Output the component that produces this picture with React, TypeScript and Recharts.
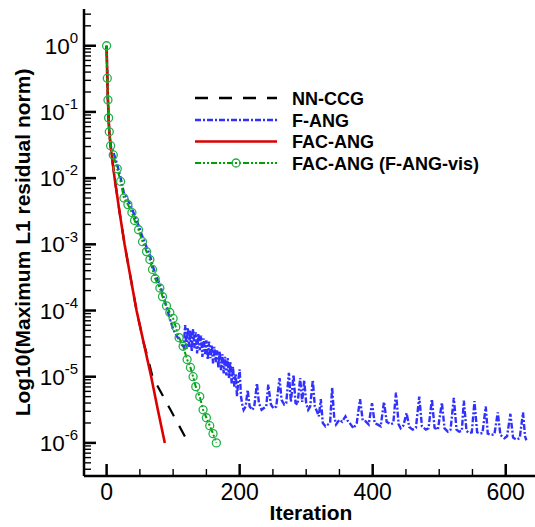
import React from 'react';
import { LineChart, Line, XAxis, YAxis, Legend } from 'recharts';

// Iteration numbers and log10(residual) values
const nnCcgIter = [0, 1, 2, 3, 4, 6, 8, 12, 20, 27, 36, 45, 56, 62, 69, 96, 123];
const nnCcgLog = [0, -0.49, -0.82, -1.09, -1.3, -1.51, -1.68, -2.0, -2.55, -3.0, -3.5, -4.0, -4.5, -4.72, -5.0, -5.5, -6.0];

const facAngIter = [0, 1, 2, 3, 4, 6, 8, 12, 20, 27, 36, 45, 56, 67, 77, 87.5];
const facAngLog = [0, -0.49, -0.82, -1.09, -1.3, -1.51, -1.68, -2.0, -2.55, -3.0, -3.5, -4.0, -4.5, -5.0, -5.5, -6.0];

const visIter = [0, 1, 2, 3, 4, 6, 10, 16, 21, 26, 32, 38, 42, 48, 54, 60, 65, 69, 73, 80, 84, 90, 95, 100, 104, 109, 115, 121, 126, 130, 134, 140, 145, 150, 155, 160, 165];
const visLog = [0, -0.49, -0.82, -1.09, -1.3, -1.51, -1.65, -1.86, -2.05, -2.3, -2.4, -2.52, -2.64, -2.78, -2.96, -3.11, -3.23, -3.38, -3.52, -3.66, -3.79, -3.93, -4.03, -4.12, -4.25, -4.41, -4.54, -4.74, -4.86, -5.0, -5.15, -5.3, -5.5, -5.62, -5.74, -5.86, -6.0];

const fAngIter = [
  0, 1, 2, 3, 4, 6, 10, 16, 21, 26, 32, 38, 42, 48, 54, 60, 65, 69, 73, 80, 84, 90, 95, 100, 105, 110, 113, 116,
  118, 120, 122, 124, 126, 128, 130, 132, 134, 136, 138, 140, 142, 144, 146, 148, 150, 152, 154, 156, 158, 160,
  162, 164, 166, 168, 170, 172, 174, 176, 178, 180, 182, 184, 186, 188, 190, 192, 194, 196, 198, 200, 202, 204,
  206, 209, 212, 215, 219, 222, 226, 229, 233, 237, 240, 243, 247, 251, 255, 260, 263, 267, 270, 274, 277, 281,
  284, 287, 291, 294, 297, 300, 303, 306, 310, 313, 316, 319, 322, 325, 329, 333, 336, 339, 342, 345, 350, 354,
  359, 362, 367, 371, 376, 381, 385, 389, 394, 399, 403, 407, 412, 417, 421, 427, 431, 435, 439, 442, 446, 451,
  455, 460, 465, 470, 474, 480, 484, 489, 493, 498, 504, 508, 513, 517, 522, 526, 530, 534, 537, 541, 545, 549,
  553, 557, 561, 565, 570, 573, 578, 583, 588, 592, 598, 602, 607, 611, 616, 621, 626, 629, 631,
];
const fAngLog = [
  0, -0.49, -0.82, -1.09, -1.3, -1.51, -1.6, -1.8, -1.99, -2.23, -2.33, -2.45, -2.57, -2.71, -2.89, -3.04, -3.16, -3.31, -3.45, -3.6, -3.74, -3.95, -4.12, -4.28, -4.38, -4.45, -4.52, -4.55,
  -4.22, -4.58, -4.26, -4.55, -4.3, -4.62, -4.28, -4.57, -4.33, -4.65, -4.35, -4.6, -4.38, -4.7, -4.42, -4.66, -4.45, -4.74, -4.47, -4.72, -4.52, -4.8,
  -4.55, -4.78, -4.6, -4.86, -4.62, -4.9, -4.66, -4.95, -4.7, -4.98, -4.72, -5.02, -4.78, -5.1, -4.85, -5.15, -4.95, -5.3, -5.05, -4.89, -5.3, -5.42,
  -5.5, -5.45, -5.2, -5.45, -5.5, -5.45, -5.1, -5.4, -5.5, -5.47, -5.45, -5.12, -5.42, -5.48, -5.45, -5.02, -5.35, -5.42, -5.4, -4.94, -5.38, -4.97,
  -5.4, -5.42, -5.02, -5.38, -5.05, -5.4, -5.5, -5.45, -5.05, -5.45, -5.52, -5.6, -5.34, -5.7, -5.75, -5.72, -5.7, -5.16, -5.6, -5.72, -5.65, -5.68,
  -5.6, -5.66, -5.72, -5.78, -5.7, -5.34, -5.66, -5.67, -5.72, -5.4, -5.7, -5.72, -5.75, -5.38, -5.68, -5.72, -5.7, -5.24, -5.72, -5.78, -5.74, -5.55,
  -5.76, -5.8, -5.77, -5.3, -5.75, -5.8, -5.78, -5.34, -5.77, -5.8, -5.39, -5.78, -5.83, -5.8, -5.32, -5.8, -5.83, -5.82, -5.36, -5.82, -5.85, -5.84,
  -5.37, -5.84, -5.86, -5.85, -5.45, -5.86, -5.88, -5.87, -5.54, -5.88, -5.93, -5.9, -5.56, -5.92, -5.95, -5.93, -5.54, -5.9, -5.96,
];

const seriesNames = ['NN-CCG', 'F-ANG', 'FAC-ANG', 'FAC-ANG (F-ANG-vis)'];
const xTicks = [0, 50, 100, 150, 200, 250, 300, 350, 400, 450, 500, 550, 600];
const xMajorTicks = [0, 200, 400, 600];
const yDecades = [0, -1, -2, -3, -4, -5, -6, -7];
const yMinorMultipliers = [2, 3, 4, 5, 6, 7, 8, 9];

const Y_MIN = -6.5;
const Y_MAX = 0.555;

const yTicks: number[] = [];
yDecades.forEach((d) => {
  if (d >= Y_MIN && d <= Y_MAX) yTicks.push(d);
  yMinorMultipliers.forEach((m) => {
    const t = d + Math.log10(m);
    if (t >= Y_MIN && t <= Y_MAX) yTicks.push(t);
  });
});

const toRows = (its: number[], vals: number[]) => its.map((it, i) => ({ it, v: vals[i] }));
const nnCcgData = toRows(nnCcgIter, nnCcgLog);
const facAngData = toRows(facAngIter, facAngLog);
const visData = toRows(visIter, visLog);
const fAngData = toRows(fAngIter, fAngLog);

const FONT = '"Liberation Sans", Arial, Helvetica, sans-serif';
const BLUE = '#3030ff';
const RED = '#dd0000';
const GREEN = '#00a000';
const GREEN_MARK = '#22b04a';

const YTick = (props: any) => {
  const { x, y, payload } = props;
  const v = payload.value as number;
  const major = Math.abs(v - Math.round(v)) < 1e-6;
  return (
    <g>
      <line x1={x} x2={x + (major ? 12 : 7)} y1={y} y2={y} stroke="#000" strokeWidth={major ? 2.5 : 1.4} />
      {major && (
        <text x={x - 6} y={y + 8} textAnchor="end" fontFamily={FONT} fontSize={22.5} fill="#000">
          <tspan>10</tspan>
          <tspan dy={-10.7} fontSize={15}>{String(Math.round(v))}</tspan>
        </text>
      )}
    </g>
  );
};

const XTick = (props: any) => {
  const { x, y, payload } = props;
  const v = payload.value as number;
  const major = xMajorTicks.includes(v);
  return (
    <g>
      <line x1={x} x2={x} y1={y} y2={y - (major ? 12 : 7)} stroke="#000" strokeWidth={major ? 2.5 : 1.4} />
      {major && (
        <text x={x} y={y + 24} textAnchor="middle" fontFamily={FONT} fontSize={23} fill="#000">
          {String(v)}
        </text>
      )}
    </g>
  );
};

const GreenDot = (props: any) => {
  const { cx, cy, index } = props;
  if (cx == null || cy == null) return <g key={`d${index}`} />;
  return <circle key={`d${index}`} cx={cx} cy={cy} r={4} fill="none" stroke={GREEN_MARK} strokeWidth={1.3} />;
};

const LegendBox = () => {
  const rows = [
    { name: seriesNames[0], stroke: '#000', dash: '13 11', width: 2.4, marker: false },
    { name: seriesNames[1], stroke: BLUE, dash: '6 2 2 2', width: 2.3, marker: false },
    { name: seriesNames[2], stroke: RED, dash: undefined, width: 2.6, marker: false },
    { name: seriesNames[3], stroke: GREEN, dash: '6 2 2 2 2 2', width: 2.2, marker: true },
  ];
  const ys = [13, 35, 56.5, 78];
  return (
    <svg width={330} height={92} style={{ display: 'block', overflow: 'visible' }}>
      {rows.map((r, i) => (
        <g key={r.name}>
          <line x1={5} x2={87} y1={ys[i]} y2={ys[i]} stroke={r.stroke} strokeWidth={r.width} strokeDasharray={r.dash} />
          {r.marker && <circle cx={46} cy={ys[i]} r={4} fill="none" stroke={GREEN_MARK} strokeWidth={1.3} />}
          <text x={102} y={ys[i] + 6.5} fontFamily={FONT} fontWeight="bold" fontSize={18} fill="#000">
            {r.name}
          </text>
        </g>
      ))}
    </svg>
  );
};

export default function App() {
  return (
    <div style={{ position: 'absolute', left: 0, top: 0, width: 535, height: 527, background: '#fff' }}>
      <LineChart width={535} height={527} margin={{ top: 9, right: 0, bottom: 0, left: 0 }}>
        <XAxis
          type="number"
          dataKey="it"
          domain={[-34, 644]}
          allowDataOverflow
          ticks={xTicks}
          interval={0}
          tick={<XTick />}
          tickLine={false}
          tickSize={0}
          tickMargin={0}
          height={51}
          axisLine={{ stroke: '#000', strokeWidth: 2.5 }}
          label={() => (
            <text x={311} y={520} textAnchor="middle" fontFamily={FONT} fontWeight="bold" fontSize={21} fill="#000">
              Iteration
            </text>
          )}
        />
        <YAxis
          type="number"
          dataKey="v"
          domain={[Y_MIN, Y_MAX]}
          allowDataOverflow
          ticks={yTicks}
          interval={0}
          tick={<YTick />}
          tickLine={false}
          tickSize={0}
          tickMargin={0}
          width={84}
          axisLine={{ stroke: '#000', strokeWidth: 2.5 }}
          label={() => (
            <text
              x={30}
              y={242.5}
              transform="rotate(-90 30 242.5)"
              textAnchor="middle"
              fontFamily={FONT}
              fontWeight="bold"
              fontSize={21}
              fill="#000"
            >
              Log10(Maximum L1 residual norm)
            </text>
          )}
        />
        <Legend
          layout="vertical"
          align="center"
          verticalAlign="middle"
          content={() => <LegendBox />}
          wrapperStyle={{ position: 'absolute', top: 85, left: 190, width: 330, height: 92 }}
        />
        <Line
          data={nnCcgData}
          dataKey="v"
          name={seriesNames[0]}
          stroke="#000"
          strokeWidth={2.2}
          strokeDasharray="12 11"
          dot={false}
          activeDot={false}
          isAnimationActive={false}
        />
        <Line
          data={fAngData}
          dataKey="v"
          name={seriesNames[1]}
          stroke={BLUE}
          strokeWidth={2.4}
          strokeDasharray="6 2 2 2"
          dot={false}
          activeDot={false}
          isAnimationActive={false}
        />
        <Line
          data={facAngData}
          dataKey="v"
          name={seriesNames[2]}
          stroke={RED}
          strokeWidth={2.6}
          dot={false}
          activeDot={false}
          isAnimationActive={false}
        />
        <Line
          data={visData}
          dataKey="v"
          name={seriesNames[3]}
          stroke={GREEN}
          strokeWidth={2}
          strokeDasharray="6 2 2 2 2 2"
          dot={<GreenDot />}
          activeDot={false}
          isAnimationActive={false}
        />
      </LineChart>
    </div>
  );
}
